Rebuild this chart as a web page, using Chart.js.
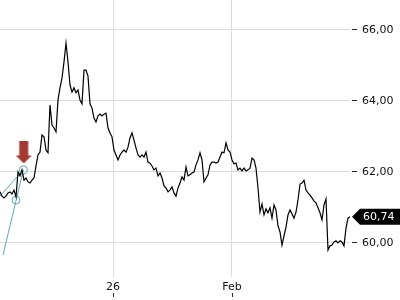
<!DOCTYPE html>
<html>
<head>
<meta charset="utf-8">
<script src="https://cdn.jsdelivr.net/npm/chart.js@4/dist/chart.umd.min.js"></script>
<style>
  html, body { margin: 0; padding: 0; background: #fff; }
  #wrap { width: 400px; height: 300px; }
</style>
</head>
<body>
<div id="wrap"><canvas id="chart"></canvas></div>
<script>
// price series, one value per step
const prices = [
  61.44, 61.32, 61.27, 61.32, 61.41, 61.44, 61.38, 61.49, 61.30, 62.00,
  61.89, 62.06, 61.77, 61.83, 61.72, 61.69, 61.77, 61.83, 62.17, 62.48,
  62.56, 63.04, 62.99, 62.62, 62.54, 63.89, 63.32, 63.24, 63.13, 64.03,
  64.37, 64.65, 65.10, 65.63, 65.10, 64.45, 64.25, 64.37, 64.23, 64.31,
  64.03, 63.92, 64.87, 64.87, 64.70, 63.92, 63.80, 63.52, 63.41, 63.58,
  63.63, 63.58, 63.63, 63.66, 63.24, 63.10, 62.99, 62.62, 62.48, 62.34,
  62.48, 62.56, 62.62, 62.56, 62.70, 62.96, 63.10, 62.90, 62.68, 62.48,
  62.42, 62.48, 62.42, 62.56, 62.28, 62.25, 62.17, 62.06, 62.11, 61.89,
  61.97, 61.83, 61.61, 61.55, 61.44, 61.49, 61.58, 61.41, 61.32, 61.55,
  61.69, 61.86, 61.77, 62.14, 61.89, 61.92, 61.97, 62.00, 62.20, 62.34,
  62.54, 62.34, 61.72, 61.83, 61.92, 62.20, 62.28, 62.28, 62.25, 62.28,
  62.42, 62.56, 62.54, 62.82, 62.62, 62.56, 62.34, 62.23, 62.25, 62.06,
  62.11, 62.03, 62.11, 62.03, 62.06, 62.11, 62.39, 62.34, 62.11, 61.55,
  60.87, 61.10, 60.79, 60.96, 60.85, 60.99, 60.70, 61.07, 60.93, 60.48,
  60.31, 59.94, 60.20, 60.45, 60.79, 60.93, 60.82, 60.70, 60.87, 61.21,
  61.66, 61.69, 61.77, 61.49, 61.41, 61.35, 61.27, 61.18, 61.13, 60.99,
  60.85, 60.65, 61.07, 61.24, 59.80, 59.92, 59.94, 60.03, 60.06, 60.00,
  60.06, 60.03, 59.92, 60.42, 60.70, 60.74
];

const xTickSteps = [56.5, 116];
const xTickLabels = ['26', 'Feb'];
const yTickValues = [60, 62, 64, 66];

// drawn annotations (step, price)
const trendLine = [{ x: 1.5, y: 59.66 }, { x: 11.7, y: 62.06 }];
const sideLine = [{ x: 0, y: 61.32 }, { x: 11.7, y: 62.06 }];
const markers = [{ x: 8, y: 61.21 }, { x: 11.7, y: 62.06 }];
const arrowMark = [{ x: 11.85, y: 62.55 }];

const teal = '#5ea9b1';
const fmt = v => v.toFixed(2).replace('.', ',');

// red down arrow used as point style
const arrowImg = document.createElement('canvas');
arrowImg.width = 16;
arrowImg.height = 22;
{
  const c = arrowImg.getContext('2d');
  c.fillStyle = '#a33a32';
  c.fillRect(3.5, 0, 9, 14);
  c.beginPath();
  c.moveTo(0, 14);
  c.lineTo(16, 14);
  c.lineTo(8, 22);
  c.closePath();
  c.fill();
}

const lastLabel = {
  id: 'lastLabel',
  afterDraw(chart) {
    const { ctx, chartArea, scales } = chart;
    const last = prices[prices.length - 1];
    const y = scales.y.getPixelForValue(last);
    const tip = chartArea.right + 2;
    const body = chartArea.right + 10;
    ctx.save();
    ctx.fillStyle = '#000';
    ctx.beginPath();
    ctx.moveTo(tip, y);
    ctx.lineTo(body, y - 8);
    ctx.lineTo(chart.width, y - 8);
    ctx.lineTo(chart.width, y + 8);
    ctx.lineTo(body, y + 8);
    ctx.closePath();
    ctx.fill();
    ctx.fillStyle = '#fff';
    ctx.font = '11px "DejaVu Sans"';
    ctx.textBaseline = 'middle';
    ctx.fillText(fmt(last), body + 3, y + 0.5);

    // small tick marks under the date labels
    ctx.strokeStyle = '#333';
    ctx.lineWidth = 1;
    scales.x.ticks.forEach(t => {
      const x = Math.round(scales.x.getPixelForValue(t.value)) + 0.5;
      ctx.beginPath();
      ctx.moveTo(x, scales.x.bottom - 7);
      ctx.lineTo(x, scales.x.bottom - 3);
      ctx.stroke();
    });
    ctx.restore();
  }
};

new Chart(document.getElementById('chart'), {
  type: 'line',
  data: {
    datasets: [
      {
        data: prices.map((p, i) => ({ x: i, y: p })),
        borderColor: '#000',
        borderWidth: 1.2,
        pointRadius: 0,
        tension: 0
      },
      {
        data: trendLine,
        borderColor: teal,
        borderWidth: 1,
        pointRadius: 0
      },
      {
        data: sideLine,
        borderColor: teal,
        borderWidth: 1,
        pointRadius: 0
      },
      {
        data: markers,
        showLine: false,
        pointRadius: 4,
        pointBorderColor: teal,
        pointBackgroundColor: 'rgba(255,255,255,0)',
        pointBorderWidth: 1
      },
      {
        data: arrowMark,
        showLine: false,
        pointStyle: arrowImg
      }
    ]
  },
  options: {
    responsive: true,
    maintainAspectRatio: false,
    animation: false,
    layout: { padding: 0, autoPadding: false },
    plugins: {
      legend: { display: false },
      tooltip: { enabled: false }
    },
    scales: {
      x: {
        type: 'linear',
        min: 0,
        max: prices.length - 1,
        afterBuildTicks: s => { s.ticks = xTickSteps.map(v => ({ value: v })); },
        afterFit: s => { s.height = 23; s.paddingLeft = 0; s.paddingRight = 0; },
        grid: { color: '#dcdcdc', drawTicks: false },
        border: { display: false },
        ticks: {
          padding: 4,
          color: '#111',
          font: { family: 'DejaVu Sans', size: 11 },
          maxRotation: 0,
          callback: v => xTickLabels[xTickSteps.indexOf(v)]
        }
      },
      y: {
        position: 'right',
        min: 59.042,
        max: 66.845,
        afterBuildTicks: s => { s.ticks = yTickValues.map(v => ({ value: v })); },
        afterFit: s => { s.width = 50; s.paddingTop = 0; s.paddingBottom = 0; },
        grid: {
          color: '#dcdcdc',
          tickColor: '#222',
          tickLength: 7,
          tickBorderDash: [0, 2, 5]
        },
        border: { display: false },
        ticks: {
          padding: 5,
          color: '#111',
          font: { family: 'DejaVu Sans', size: 11 },
          callback: v => fmt(v)
        }
      }
    }
  },
  plugins: [lastLabel]
});
</script>
</body>
</html>
